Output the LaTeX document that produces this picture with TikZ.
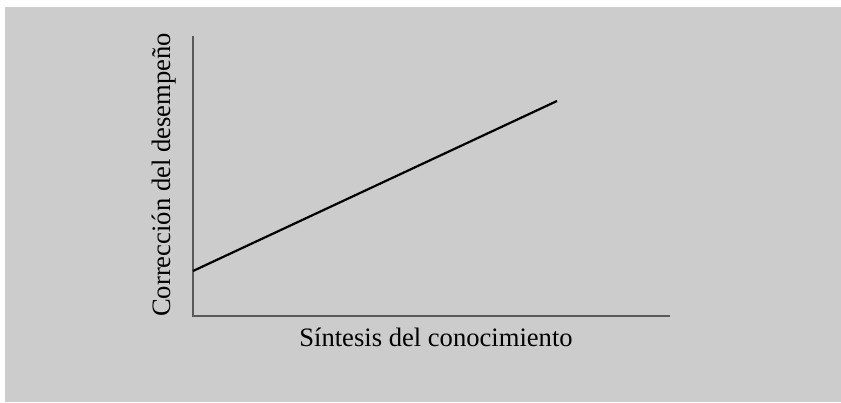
\documentclass[tikz,border=0pt]{standalone}
\usepackage{fontspec}
\setmainfont{Liberation Serif}
\begin{document}
\begin{tikzpicture}[x=1pt,y=1pt,
  axisline/.style={draw=black!65,line width=1.1pt},
  dataline/.style={draw=black,line width=2.2pt},
  lbl/.style={font=\fontsize{26.6}{30}\selectfont,inner sep=0pt}]
\useasboundingbox (0,0) rectangle (841,402);
\fill[white] (0,0) rectangle (841,402);
\fill[black!20] (5,0) rectangle (841,395);
\coordinate (top) at (193,366);
\coordinate (origin) at (193,86);
\coordinate (right) at (670,86);
\coordinate (a) at (193,131);
\coordinate (b) at (557,301);
\draw[axisline] (top) -- (origin) -- (right);
\draw[dataline] (a) -- (b);
\node[lbl] (xl) at (436,65) {Síntesis del conocimiento};
\node[lbl,rotate=90] (yl) at (164,227) {Corrección del desempeño};
\end{tikzpicture}
\end{document}
